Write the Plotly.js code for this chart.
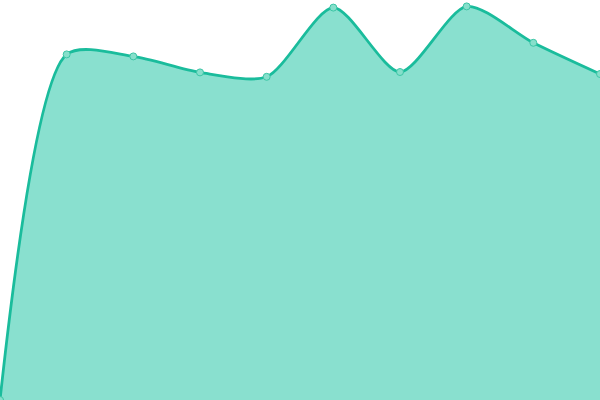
<!DOCTYPE html>
<html>
<head>
<meta charset="utf-8">
<script src="https://cdn.plot.ly/plotly-3.0.1.min.js"></script>
<style>
  html, body { margin: 0; padding: 0; background: #fff; }
  #chart { width: 600px; height: 400px; }
</style>
</head>
<body>
<div id="chart"></div>
<script>
// values, one per point
const labels = ['0', '1', '2', '3', '4', '5', '6', '7', '8', '9'];
const values = [0, 86.4, 85.9, 81.9, 80.8, 98.1, 82, 98.4, 89.3, 81.5];

const trace = {
  x: labels.map(Number),
  y: values,
  type: 'scatter',
  mode: 'lines+markers',
  fill: 'tozeroy',
  fillcolor: '#89e0cf',
  line: { color: '#1abc9c', width: 2.8, shape: 'spline', smoothing: 0.75 },
  marker: { size: 7, color: '#86dfcb', line: { color: '#3cc6a6', width: 1 } },
  cliponaxis: false,
  hoverinfo: 'none',
};

const layout = {
  width: 600,
  height: 400,
  margin: { l: 0, r: 0, t: 0, b: 0 },
  paper_bgcolor: '#ffffff',
  plot_bgcolor: '#ffffff',
  showlegend: false,
  xaxis: { range: [0, 9], visible: false, fixedrange: true },
  yaxis: { range: [0, 100], visible: false, fixedrange: true },
};

Plotly.newPlot('chart', [trace], layout, { displayModeBar: false, staticPlot: true });
</script>
</body>
</html>
